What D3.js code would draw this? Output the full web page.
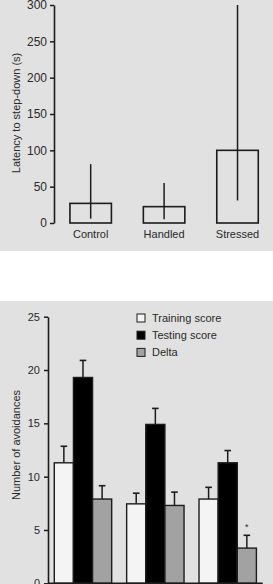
<!DOCTYPE html>
<html><head><meta charset="utf-8">
<script src="https://cdn.jsdelivr.net/npm/d3@7"></script>
<style>
body{margin:0;background:#fff;}
svg{display:block;font-family:"Liberation Sans",Arial,Helvetica,sans-serif;}
</style></head>
<body><svg id="c" width="273" height="584"></svg>
<script>
// ---- Top panel data ----
const categories = ["Control", "Handled", "Stressed"];
const latency = [27, 22.5, 100];
const latencyLow = [6, 5, 31];
const latencyHigh = [81, 55, 300];
const topTicks = [0, 50, 100, 150, 200, 250, 300];

// ---- Bottom panel data ----
const series = ["Training score", "Testing score", "Delta"];
const training = [11.3, 7.45, 7.9];
const trainingErr = [1.55, 1.0, 1.1];
const testing = [19.3, 14.9, 11.3];
const testingErr = [1.6, 1.5, 1.15];
const delta = [7.9, 7.3, 3.3];
const deltaErr = [1.25, 1.25, 1.2];
const bottomTicks = [0, 5, 10, 15, 20, 25];
const seriesFill = ["#f4f4f4", "#000000", "#a2a2a2"];

const svg = d3.select("#c");
const bg = "#e1e1e1", ink = "#1c1c1c", txt = "#2a2a2a";

svg.append("rect").attr("x",0).attr("y",0).attr("width",273).attr("height",251).attr("fill",bg);
svg.append("rect").attr("x",0).attr("y",301).attr("width",273).attr("height",283).attr("fill",bg);

// ===== Top chart =====
const yT = d3.scaleLinear().domain([0,300]).range([223,5]);
const xT = d3.scaleBand().domain(categories).range([54,274.2]).paddingInner(0.435).paddingOuter(0.217);
const gT = svg.append("g");

gT.selectAll("rect.bar").data(categories).join("rect").attr("class","bar")
  .attr("x", d=>xT(d)).attr("width", xT.bandwidth())
  .attr("y", (d,i)=>yT(latency[i])).attr("height",(d,i)=>yT(0)-yT(latency[i]))
  .attr("fill","none").attr("stroke",ink).attr("stroke-width",1.6);

gT.selectAll("line.err").data(categories).join("line").attr("class","err")
  .attr("x1", d=>xT(d)+xT.bandwidth()/2).attr("x2", d=>xT(d)+xT.bandwidth()/2)
  .attr("y1",(d,i)=>yT(latencyLow[i])).attr("y2",(d,i)=>yT(latencyHigh[i]))
  .attr("stroke",ink).attr("stroke-width",1.5);

const axT = gT.append("g").attr("transform","translate(54,0)")
  .call(d3.axisLeft(yT).tickValues(topTicks).tickSize(4).tickSizeOuter(0).tickPadding(3));
axT.select(".domain").attr("stroke",ink).attr("stroke-width",1.6);
axT.selectAll(".tick line").attr("stroke",ink).attr("stroke-width",1.5);
axT.selectAll(".tick text").attr("fill",txt).style("font-size","12px");

gT.selectAll("text.cat").data(categories).join("text").attr("class","cat")
  .attr("x", d=>xT(d)+xT.bandwidth()/2).attr("y",238)
  .attr("text-anchor","middle").attr("fill",txt).style("font-size","11px").text(d=>d);

gT.append("text").attr("transform","translate(20,113) rotate(-90)")
  .attr("text-anchor","middle").attr("fill",txt).style("font-size","11px")
  .text("Latency to step-down (s)");

// ===== Bottom chart =====
const yB = d3.scaleLinear().domain([0,25]).range([583.3,316.7]);
const x0 = d3.scaleBand().domain(categories).range([48,262.7]).paddingInner(0.207).paddingOuter(0.087);
const x1 = d3.scaleBand().domain(series).range([0,x0.bandwidth()]).padding(0);
const vals = [training, testing, delta];
const errs = [trainingErr, testingErr, deltaErr];
const gB = svg.append("g");

const rows = [];
categories.forEach((c,ci)=>series.forEach((s,si)=>rows.push({c,s,si,v:vals[si][ci],e:errs[si][ci]})));

// error bars (drawn first so bar outline covers the base)
const eg = gB.selectAll("g.eb").data(rows).join("g").attr("class","eb");
eg.append("line")
  .attr("x1",d=>x0(d.c)+x1(d.s)+x1.bandwidth()/2).attr("x2",d=>x0(d.c)+x1(d.s)+x1.bandwidth()/2)
  .attr("y1",d=>yB(d.v)).attr("y2",d=>yB(d.v+d.e)).attr("stroke",ink).attr("stroke-width",1.5);
eg.append("line")
  .attr("x1",d=>x0(d.c)+x1(d.s)+x1.bandwidth()/2-3.3).attr("x2",d=>x0(d.c)+x1(d.s)+x1.bandwidth()/2+3.3)
  .attr("y1",d=>yB(d.v+d.e)).attr("y2",d=>yB(d.v+d.e)).attr("stroke",ink).attr("stroke-width",1.6);

gB.selectAll("rect.bar").data(rows).join("rect").attr("class","bar")
  .attr("x",d=>x0(d.c)+x1(d.s)).attr("width",x1.bandwidth())
  .attr("y",d=>yB(d.v)).attr("height",d=>yB(0)-yB(d.v))
  .attr("fill",d=>seriesFill[d.si]).attr("stroke",ink).attr("stroke-width",1.4);

// significance marker
gB.append("text").attr("x",x0("Stressed")+x1("Delta")+x1.bandwidth()/2).attr("y",yB(deltaErr[2]+delta[2])-5)
  .attr("text-anchor","middle").attr("fill",txt).style("font-size","9px").text("*");

gB.append("line").attr("x1",48).attr("x2",262.7).attr("y1",yB(0)).attr("y2",yB(0))
  .attr("stroke",ink).attr("stroke-width",1.5);

const axB = gB.append("g").attr("transform","translate(48,0)")
  .call(d3.axisLeft(yB).tickValues(bottomTicks).tickSize(4).tickSizeOuter(0).tickPadding(4));
axB.select(".domain").attr("stroke",ink).attr("stroke-width",1.6);
axB.selectAll(".tick line").attr("stroke",ink).attr("stroke-width",1.5);
axB.selectAll(".tick text").attr("fill",txt).style("font-size","11px");

gB.append("text").attr("transform","translate(20,445) rotate(-90)")
  .attr("text-anchor","middle").attr("fill",txt).style("font-size","11px")
  .text("Number of avoidances");

// legend
const lg = gB.selectAll("g.lg").data(series).join("g").attr("class","lg")
  .attr("transform",(d,i)=>`translate(137,${318+i*17.2})`);
lg.append("rect").attr("x",0).attr("y",-4).attr("width",8).attr("height",8)
  .attr("fill",(d,i)=>seriesFill[i]).attr("stroke",ink).attr("stroke-width",1);
lg.append("text").attr("x",15).attr("y",0).attr("dy","0.35em").attr("fill",txt)
  .style("font-size","11px").text(d=>d);
</script></body></html>
